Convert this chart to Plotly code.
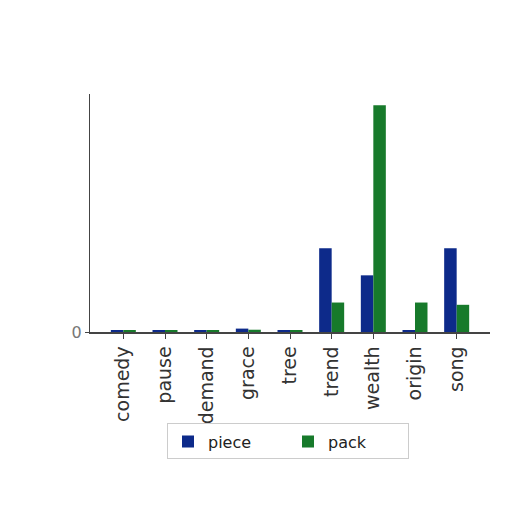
import plotly.graph_objects as go

categories = ["comedy", "pause", "demand", "grace", "tree", "trend", "wealth", "origin", "song"]
piece = [0.6, 0.8, 0.8, 1.5, 0.6, 37, 25, 0.6, 37]
pack = [0.6, 0.8, 0.6, 1.0, 0.8, 13, 100, 13, 12]

fig = go.Figure()
fig.add_trace(go.Bar(x=categories, y=piece, name="piece", marker=dict(color="#0d2a8a", line=dict(width=0)), offsetgroup=0))
fig.add_trace(go.Bar(x=categories, y=pack, name="pack", marker=dict(color="#177a2b", line=dict(width=0)), offsetgroup=1))

fig.update_layout(
    width=512, height=512,
    margin=dict(l=82, r=30, t=86, b=188, autoexpand=False),
    paper_bgcolor="white", plot_bgcolor="white",
    font=dict(family="DejaVu Sans", size=16, color="#222"),
    barmode="group", bargap=0.4, bargroupgap=0,
    showlegend=True,
    legend=dict(orientation="h", x=0.495, y=-0.46, xanchor="center", yanchor="middle",
                bordercolor="#cccccc", borderwidth=1, bgcolor="white",
                font=dict(size=16, color="#222"), entrywidth=75),
    xaxis=dict(range=[-0.8, 8.8], tickangle=-90, showline=True, linecolor="#444", linewidth=1.5,
               ticks="outside", ticklen=5, tickcolor="#444", showgrid=False, zeroline=False,
               tickfont=dict(size=19, color="#333"), automargin=False),
    yaxis=dict(range=[0, 105], tickvals=[0], ticktext=["0"], showline=True, linecolor="#444",
               linewidth=1, ticks="outside", ticklen=4, tickcolor="#444", showgrid=False,
               zeroline=False, tickfont=dict(color="#777", size=16), automargin=False),
)
fig.write_html("out.html")
